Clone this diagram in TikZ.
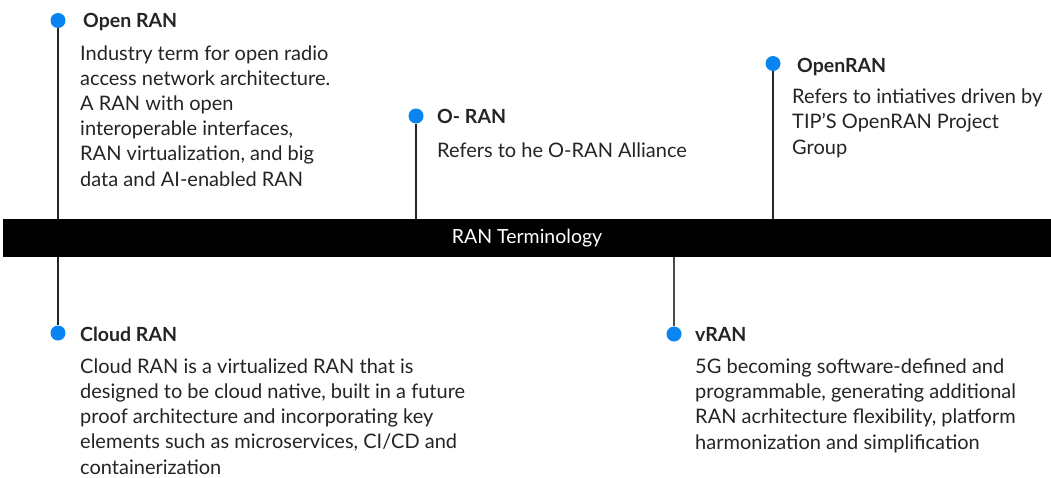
\documentclass[tikz,border=0pt]{standalone}
\usepackage{fontspec}
\setmainfont{Lato}
\definecolor{dotblue}{HTML}{0A84F0}
\definecolor{txt}{HTML}{242424}
\begin{document}
\begin{tikzpicture}[x=1pt,y=-1pt,
  dot/.style={circle,fill=dotblue,minimum size=15pt,inner sep=0pt},
  ttl/.style={anchor=base west,inner sep=0pt,text=txt,font=\fontsize{19.5}{22}\selectfont\bfseries},
  body/.style={anchor=base west,inner sep=0pt,text=txt,align=left,font=\fontsize{20}{25.2}\selectfont},
  conn/.style={draw=black!85,line width=1.3pt}]
\useasboundingbox (0,0) rectangle (1051,477);
\node[fill=black,minimum width=1048pt,minimum height=38pt,inner sep=0pt,text=white,
      font=\fontsize{19.5}{22}\selectfont] (bar) at (527,238) {RAN Terminology};
% top items
\node[dot] (d1) at (58,20.5) {};
\node[dot] (d2) at (416,116) {};
\node[dot] (d3) at (773,63.5) {};
% bottom items
\node[dot] (d4) at (58,333) {};
\node[dot] (d5) at (674,334) {};
\draw[conn] (d1) -- (d1 |- bar.north);
\draw[conn] (d2) -- (d2 |- bar.north);
\draw[conn] (d3) -- (d3 |- bar.north);
\draw[conn] (d4) -- (d4 |- bar.south);
\draw[conn,draw=black!70] (d5) -- (d5 |- bar.south);
\node[ttl] (t1) at (83,27.5) {Open RAN};
\node[body] (b1) at (80,186) {Industry term for open radio\\access network architecture.\\A RAN with open\\interoperable interfaces,\\RAN virtualization, and big\\data and AI-enabled RAN};
\node[ttl] (t2) at (437,123) {O- RAN};
\node[body] (b2) at (437,157) {Refers to he O-RAN Alliance};
\node[ttl] (t3) at (797,72) {OpenRAN};
\node[body] (b3) at (792,154) {Refers to intiatives driven by\\TIP’S OpenRAN Project\\Group};
\node[ttl] (t4) at (80,341.5) {Cloud RAN};
\node[body] (b4) at (80,474) {Cloud RAN is a virtualized RAN that is\\designed to be cloud native, built in a future\\proof architecture and incorporating key\\elements such as microservices, CI/CD and\\containerization};
\node[ttl] (t5) at (695,341) {vRAN};
\node[body] (b5) at (695,449) {5G becoming software-defined and\\programmable, generating additional\\RAN acrhitecture flexibility, platform\\harmonization and simplification};
\end{tikzpicture}
\end{document}
